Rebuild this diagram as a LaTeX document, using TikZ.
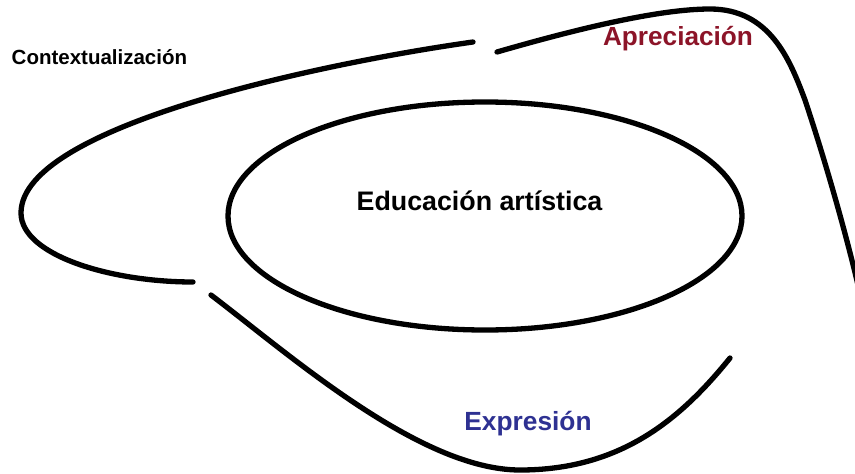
\documentclass[tikz,border=0pt]{standalone}
\usepackage{fontspec}
\setmainfont{Liberation Sans}
\usepackage{tikz}
\usepackage{xcolor}
\definecolor{rojoap}{RGB}{140,20,40}
\definecolor{azulex}{RGB}{46,49,146}

\tikzset{
  trazo/.style={line width=5.3pt, line cap=round},
  etiq/.style={inner sep=0pt, anchor=base, font=\bfseries}
}

\begin{document}
\begin{tikzpicture}[x=1pt, y=-1pt]
				\useasboundingbox (0, 0) rectangle (855, 474);
				\draw[trazo] (485, 216) ellipse (257 and 114);
				\draw[trazo] (473, 42) .. controls (330, 62) and (21, 125) .. (21, 213)
					.. controls (21, 255) and (110, 282) .. (193, 282);
				\draw[trazo] (497, 52) .. controls (580, 28) and (660, 9) .. (710, 9)
					.. controls (770, 9) and (790, 60) .. (805, 100)
					.. controls (825, 160) and (845, 230) .. (858, 285);
				\draw[trazo] (211, 295) .. controls (290, 355) and (420, 470) .. (520, 470)
					.. controls (620, 470) and (680, 420) .. (730, 358);
				\node[etiq] (edu) at (479.5, 210.7) {\fontsize{26.8}{30}\selectfont Educación artística};
				\node[etiq, color=rojoap] (apre) at (678, 45.7) {\fontsize{26.2}{30}\selectfont Apreciación};
				\node[etiq, color=azulex] (expr) at (528, 430) {\fontsize{26.3}{30}\selectfont Expresión};
				\node[etiq, anchor=base west] (cont) at (11.5, 64.5) {\fontsize{20.5}{23}\selectfont Contextualización};
			\end{tikzpicture}
\end{document}
